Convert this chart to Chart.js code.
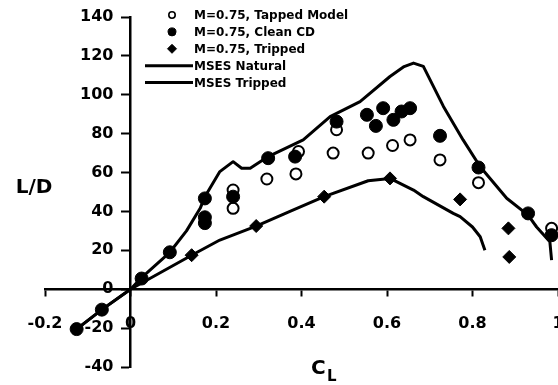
<!DOCTYPE html>
<html>
<head>
<meta charset="utf-8">
<script src="https://cdn.jsdelivr.net/npm/chart.js@4/dist/chart.umd.min.js"></script>
<style>
  html, body { margin: 0; padding: 0; background: #fff; }
</style>
</head>
<body>
<canvas id="ldChart" width="558" height="385"></canvas>
<script>
// wind tunnel points, M=0.75
const tappedCL = [0.24, 0.24, 0.319, 0.393, 0.387, 0.482, 0.474, 0.556, 0.613, 0.654, 0.724, 0.814, 0.985];
const tappedLD = [51, 41.6, 56.7, 70.8, 59.3, 82, 70, 70, 73.9, 76.8, 66.5, 54.8, 31.3];

const cleanCL = [-0.126, -0.067, 0.026, 0.092, 0.174, 0.174, 0.174, 0.24, 0.322, 0.385, 0.482, 0.553, 0.591, 0.574, 0.615, 0.634, 0.654, 0.724, 0.814, 0.93, 0.985];
const cleanLD = [-20.5, -10.5, 5.5, 19, 46.7, 37, 34, 47.6, 67.4, 68.2, 86.2, 89.7, 93.1, 84, 87.1, 91.4, 93.1, 78.9, 62.6, 39, 27.8];

const trippedCL = [0.143, 0.294, 0.453, 0.607, 0.771, 0.884, 0.886];
const trippedLD = [17.5, 32.5, 47.6, 57, 46.2, 31.3, 16.6];

// MSES predictions
const naturalCL = [-0.126, -0.067, 0, 0.026, 0.092, 0.131, 0.163, 0.174, 0.209, 0.24, 0.26, 0.28, 0.322, 0.404, 0.467, 0.537, 0.607, 0.64, 0.662, 0.685, 0.732, 0.778, 0.818, 0.88, 0.93, 0.95, 0.981, 0.985];
const naturalLD = [-20.5, -10.5, 0, 6, 19, 30, 41.6, 47.6, 60.5, 65.6, 62.2, 62.2, 68.2, 76.8, 88.8, 96.5, 109.4, 114.5, 116.3, 114.6, 94, 76.8, 63, 46.8, 38.1, 32, 24.4, 15];

const msesTripCL = [-0.126, -0.067, 0, 0.143, 0.209, 0.294, 0.373, 0.453, 0.556, 0.607, 0.662, 0.685, 0.755, 0.771, 0.8, 0.818, 0.829];
const msesTripLD = [-20.5, -10.5, 0, 17.5, 25.3, 32.5, 40, 47.6, 55.8, 57, 51, 47.6, 39, 37.3, 32, 27, 20.1];

const xTicks = [-0.2, 0, 0.2, 0.4, 0.6, 0.8, 1];
const yTicks = [-40, -20, 0, 20, 40, 60, 80, 100, 120, 140];

const FONT = '"DejaVu Sans", sans-serif';
const tickFont = { family: FONT, size: 16, weight: 'bold' };

function pts(xs, ys) {
  return xs.map((x, i) => ({ x: x, y: ys[i] }));
}

// legend drawn by hand so the line samples can be long
const legendBox = {
  id: 'legendBox',
  afterDraw(chart) {
    const ctx = chart.ctx;
    ctx.save();
    ctx.font = 'bold 12px ' + FONT;
    ctx.textBaseline = 'middle';
    chart.data.datasets.forEach((ds, i) => {
      const y = 15 + i * 16.9;
      ctx.fillStyle = ds.backgroundColor;
      ctx.strokeStyle = '#000';
      if (ds.showLine) {
        ctx.lineWidth = 3;
        ctx.beginPath();
        ctx.moveTo(145, y);
        ctx.lineTo(193, y);
        ctx.stroke();
      } else {
        ctx.lineWidth = ds.keyBorder;
        Chart.helpers.drawPoint(ctx, {
          pointStyle: ds.pointStyle,
          radius: ds.keyRadius,
          borderWidth: ds.keyBorder,
          rotation: 0
        }, 172, y);
      }
      ctx.fillStyle = '#000';
      ctx.fillText(ds.label, 194, y + 1);
    });
    ctx.restore();
  }
};

const axisTitles = {
  id: 'axisTitles',
  afterDraw(chart) {
    const ctx = chart.ctx;
    ctx.save();
    ctx.fillStyle = '#000';
    ctx.textBaseline = 'middle';
    ctx.textAlign = 'center';
    ctx.font = 'bold 20px ' + FONT;
    ctx.fillText('L/D', 34, 188);
    ctx.textAlign = 'left';
    ctx.fillText('C', 311, 369);
    ctx.font = 'bold 15px ' + FONT;
    ctx.fillText('L', 327, 377);
    ctx.restore();
  }
};

const ctx = document.getElementById('ldChart');

const ldChart = new Chart(ctx, {
  type: 'scatter',
  data: {
    datasets: [{
      label: 'M=0.75, Tapped Model',
      data: pts(tappedCL, tappedLD),
      pointStyle: 'circle',
      pointRadius: 5.5,
      borderWidth: 2,
      backgroundColor: '#fff',
      borderColor: '#000',
      keyRadius: 3.2,
      keyBorder: 1.6,
      clip: false,
      order: 3
    }, {
      label: 'M=0.75, Clean CD',
      data: pts(cleanCL, cleanLD),
      pointStyle: 'circle',
      pointRadius: 6.5,
      borderWidth: 1,
      backgroundColor: '#000',
      borderColor: '#000',
      keyRadius: 4,
      keyBorder: 1,
      clip: false,
      order: 2
    }, {
      label: 'M=0.75, Tripped',
      data: pts(trippedCL, trippedLD),
      pointStyle: 'rectRot',
      pointRadius: 6.5,
      borderWidth: 1,
      backgroundColor: '#000',
      borderColor: '#000',
      keyRadius: 4.5,
      keyBorder: 1,
      clip: false,
      order: 1
    }, {
      label: 'MSES Natural',
      data: pts(naturalCL, naturalLD),
      showLine: true,
      pointRadius: 0,
      borderWidth: 3,
      borderColor: '#000',
      backgroundColor: '#000',
      fill: false,
      tension: 0,
      borderJoinStyle: 'round',
      clip: false,
      order: 4
    }, {
      label: 'MSES Tripped',
      data: pts(msesTripCL, msesTripLD),
      showLine: true,
      pointRadius: 0,
      borderWidth: 3,
      borderColor: '#000',
      backgroundColor: '#000',
      fill: false,
      tension: 0,
      borderJoinStyle: 'round',
      clip: false,
      order: 5
    }]
  },
  options: {
    responsive: false,
    animation: false,
    devicePixelRatio: 1,
    layout: { autoPadding: false, padding: { left: 45, top: 17, right: 0, bottom: 18 } },
    plugins: {
      legend: { display: false },
      tooltip: { enabled: false }
    },
    scales: {
      x: {
        type: 'linear',
        position: { y: 0 },
        min: -0.2,
        max: 1,
        afterBuildTicks: (axis) => { axis.ticks = xTicks.map(v => ({ value: v })); },
        afterFit: (axis) => { axis.paddingRight = 0; axis.paddingLeft = 0; },
        border: { color: '#000', width: 2.5 },
        grid: { drawOnChartArea: false, tickColor: '#000', tickWidth: 2, tickLength: 6 },
        ticks: {
          color: '#000',
          padding: 19,
          maxRotation: 0,
          autoSkip: false,
          callback: (v) => String(v),
          font: tickFont
        }
      },
      // axis line and tick marks through CL = 0
      y: {
        type: 'linear',
        position: { x: 0 },
        min: -40,
        max: 140,
        afterBuildTicks: (axis) => { axis.ticks = yTicks.map(v => ({ value: v })); },
        afterFit: (axis) => { axis.paddingTop = 0; axis.paddingBottom = 0; },
        border: { color: '#000', width: 2.5 },
        grid: { drawOnChartArea: false, tickColor: '#000', tickWidth: 2, tickLength: 8 },
        ticks: { display: false }
      },
      // L/D numbers, set just left of the tick marks
      yLabels: {
        type: 'linear',
        axis: 'y',
        position: { x: -0.0398 },
        min: -40,
        max: 140,
        afterBuildTicks: (axis) => { axis.ticks = yTicks.map(v => ({ value: v })); },
        afterFit: (axis) => { axis.paddingTop = 0; axis.paddingBottom = 0; },
        border: { display: false },
        grid: { display: false },
        ticks: {
          color: '#000',
          autoSkip: false,
          callback: (v) => String(v),
          font: tickFont
        }
      }
    }
  },
  plugins: [legendBox, axisTitles]
});
</script>
</body>
</html>
